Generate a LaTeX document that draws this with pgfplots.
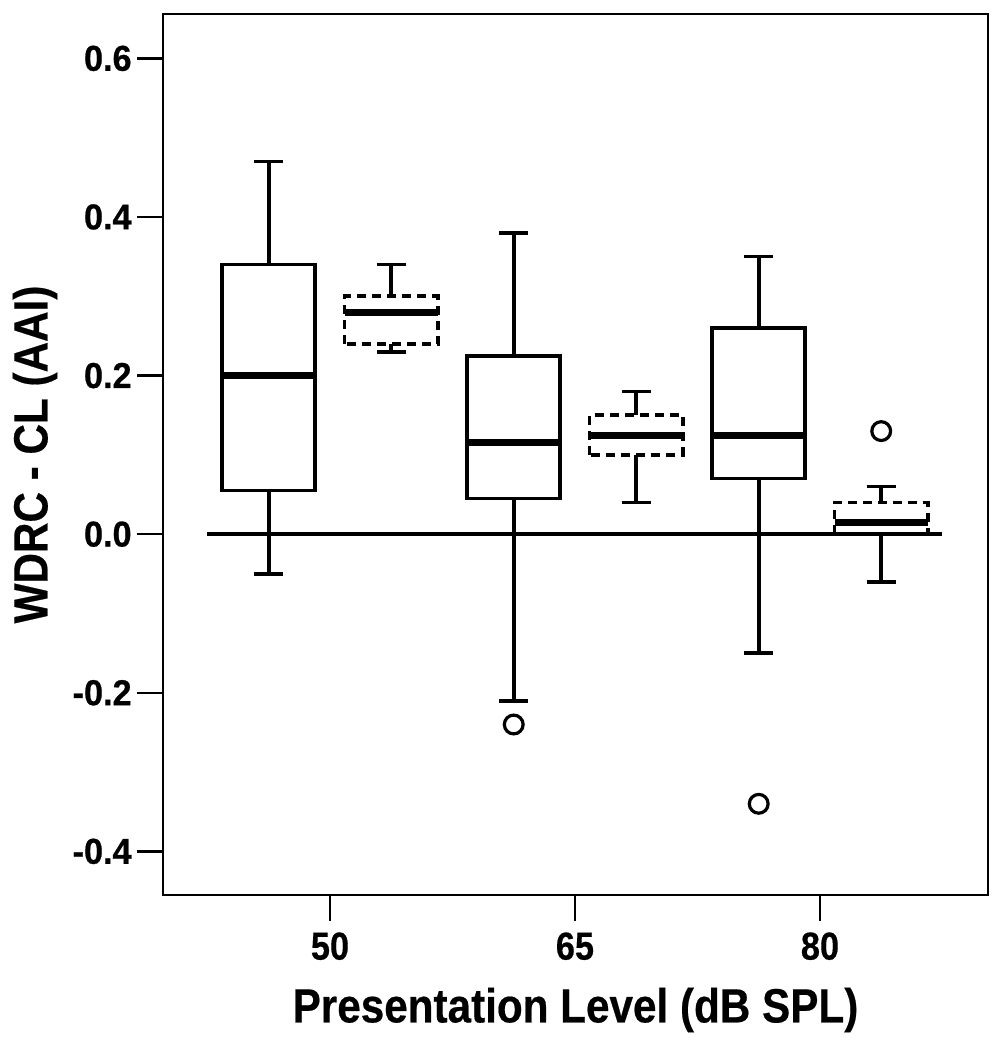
\documentclass[border=0pt]{standalone}
\usepackage{fontspec}
\setmainfont{Liberation Sans}[FakeBold=0.4]
\newfontfamily\narrowbold[FakeStretch=0.88,FakeBold=0.4]{Liberation Sans}
\newfontfamily\ytickfont[FakeStretch=0.95,FakeBold=0.6]{Liberation Sans}
\usepackage{pgfplots}
\pgfplotsset{compat=1.18}
\usepgfplotslibrary{statistics}
\begin{document}
\begin{tikzpicture}
\begin{axis}[
  scale only axis,
  width=412.5pt, height=440.5pt,
  xmin=-0.6816, xmax=2.686,
  ymin=-0.455, ymax=0.656,
  xtick={0,1,2}, xticklabels={50,65,80},
  ytick={-0.4,-0.2,0,0.2,0.4,0.6},
  yticklabel style={font=\ytickfont\bfseries\fontsize{18}{18}\selectfont, inner sep=0pt, xshift=-2.5pt,
    /pgf/number format/fixed, /pgf/number format/fixed zerofill,
    /pgf/number format/precision=1, /pgf/number format/assume math mode=true},
  xticklabel style={font=\narrowbold\bfseries\fontsize{19.5}{19.5}\selectfont, inner sep=0pt, yshift=-5.5pt},
  tick align=outside, xtick pos=bottom, ytick pos=left,
  major tick length=13pt,
  tick style={line width=1.15pt, black},
  axis line style={line width=1pt},
  every axis x label/.style={at={(axis description cs:0.5,0)}, yshift=-57.5pt, anchor=center},
  every axis y label/.style={at={(axis description cs:0,0.5)}, xshift=-64pt, rotate=90, anchor=center},
  xlabel={\narrowbold\bfseries\fontsize{24}{24}\selectfont Presentation Level (dB SPL)},
  ylabel={\narrowbold\bfseries\fontsize{24}{24}\selectfont WDRC - CL (AAI)},
  boxplot/draw direction=y,
  boxplot/every median/.style={line width=3.5pt},
  clip=false,
]
% zero reference line
\addplot[black, line width=1.7pt] coordinates {(-0.5,0) (2.5,0)};

% 50 dB: solid
\addplot[black, line width=1.8pt, mark=o, mark size=4.7pt, mark options={solid, line width=1.6pt},
  boxplot prepared={draw position=-0.25, lower whisker=-0.05, lower quartile=0.055,
    median=0.20, upper quartile=0.34, upper whisker=0.47, box extend=0.38, whisker extend=0.12}]
  coordinates {};
% 50 dB: dashed
\addplot[black, line width=1.8pt, mark=o, mark size=4.7pt, mark options={solid, line width=1.6pt},
  boxplot prepared={draw position=0.25, lower whisker=0.23, lower quartile=0.24,
    median=0.28, upper quartile=0.30, upper whisker=0.34, box extend=0.38, whisker extend=0.12,
    every box/.append style={dash pattern=on 4.5pt off 3pt}}]
  coordinates {};

% 65 dB: solid
\addplot[black, line width=1.8pt, mark=o, mark size=4.7pt, mark options={solid, line width=1.6pt},
  boxplot prepared={draw position=0.75, lower whisker=-0.21, lower quartile=0.045,
    median=0.115, upper quartile=0.225, upper whisker=0.38, box extend=0.38, whisker extend=0.12}]
  table[row sep=\\, y index=0] {data\\ -0.24\\};
% 65 dB: dashed
\addplot[black, line width=1.8pt, mark=o, mark size=4.7pt, mark options={solid, line width=1.6pt},
  boxplot prepared={draw position=1.25, lower whisker=0.04, lower quartile=0.10,
    median=0.125, upper quartile=0.15, upper whisker=0.18, box extend=0.38, whisker extend=0.12,
    every box/.append style={dash pattern=on 4.5pt off 3pt}}]
  coordinates {};

% 80 dB: solid
\addplot[black, line width=1.8pt, mark=o, mark size=4.7pt, mark options={solid, line width=1.6pt},
  boxplot prepared={draw position=1.75, lower whisker=-0.15, lower quartile=0.07,
    median=0.125, upper quartile=0.26, upper whisker=0.35, box extend=0.38, whisker extend=0.12}]
  table[row sep=\\, y index=0] {data\\ -0.34\\};
% 80 dB: dashed
\addplot[black, line width=1.8pt, mark=o, mark size=4.7pt, mark options={solid, line width=1.6pt},
  boxplot prepared={draw position=2.25, lower whisker=-0.06, lower quartile=0.0,
    median=0.015, upper quartile=0.04, upper whisker=0.06, box extend=0.38, whisker extend=0.12,
    every box/.append style={dash pattern=on 4.5pt off 3pt}}]
  table[row sep=\\, y index=0] {data\\ 0.13\\};
\end{axis}
\pgfresetboundingbox
\path ([shift={(-81.5pt,-77.5pt)}]current axis.south west) rectangle ([shift={(5.5pt,7pt)}]current axis.north east);
\end{tikzpicture}
\end{document}
